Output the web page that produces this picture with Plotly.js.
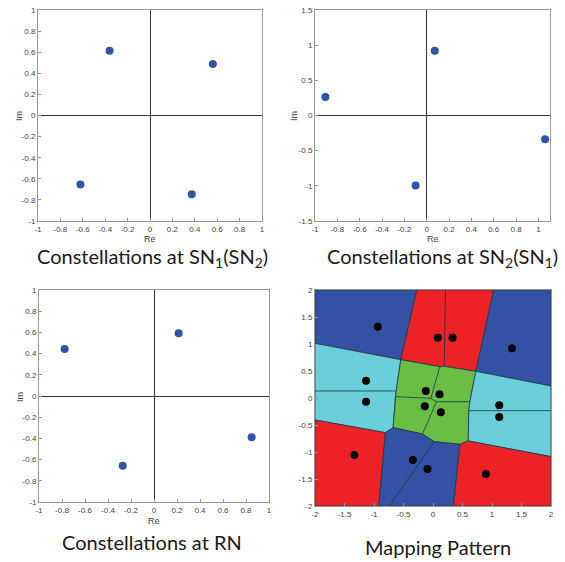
<!DOCTYPE html>
<html>
<head>
<meta charset="utf-8">
<script src="https://cdn.plot.ly/plotly-3.0.1.min.js"></script>
<style>html,body{margin:0;padding:0;background:#fff;}#chart{width:565px;height:562px;}</style>
</head>
<body>
<div id="chart"></div>
<script>
// ---------- Constellation data ----------
const sn1Re = [-0.361, 0.561, -0.621, 0.373];
const sn1Im = [0.614, 0.487, -0.655, -0.747];

const sn2Re = [-0.907, 0.072, -0.099, 1.060];
const sn2Im = [0.262, 0.919, -0.995, -0.338];

const rnRe = [-0.777, 0.214, -0.272, 0.849];
const rnIm = [0.444, 0.592, -0.658, -0.388];

// ---------- Mapping pattern: superimposed points ----------
const mapRe = [-0.936, 0.082, 0.331, 1.338, -1.134, -1.134, -0.122, 0.110, -0.139, 0.133, 1.123, 1.123, -1.333, -0.342, -0.093, 0.897];
const mapIm = [1.320, 1.117, 1.117, 0.920, 0.321, -0.068, 0.130, 0.068, -0.154, -0.265, -0.136, -0.352, -1.056, -1.148, -1.315, -1.407];

// ---------- Mapping pattern: region vertices (data units) ----------
const vertexNames = ['TL','TR','BL','BR','A','B','C','D','E','F','G','H','I','J1','J','K','L','M','N','O','P','Q','R','S','T','U','V','W','X','Y','Z1','Z2'];
const vertexX = [-2, 2, -2, 2, -0.274, -0.546, 0.212, 0.190, 0.116, 0.727, 1.027, -2, -2, -0.625, -0.637, -0.676, -0.806, -2, -0.919, -0.178, 0.020, -0.738, 0.455, 0.597, 0.348, 2, 2, 0.608, 2, 0.625, -0.037, 0.059];
const vertexY = [2, 2, -2, -2, 2, 0.710, 2, 0.586, 0.580, 0.494, 2, 1.012, 0.130, 0.130, 0.025, -0.549, -0.642, -0.407, -2, -0.667, -0.809, -2, -0.858, -0.796, -2, -1.086, 0.222, -0.235, -0.235, -0.068, -0.006, -0.068];

const regionColors = ['blue','red','blue','cyan','green','cyan','red','blue','red'];
const regionVertices = [
  ['TL','A','B','H'],
  ['A','G','F','D','E','B'],
  ['G','TR','V','F'],
  ['H','B','J1','J','K','L','M'],
  ['B','E','D','F','Y','W','S','R','P','O','K','J','J1'],
  ['F','V','X','U','S','W','Y'],
  ['M','L','N','BL'],
  ['L','K','O','P','R','T','N'],
  ['R','S','U','BR','T']
];
const innerEdges = [['C','D'],['I','J1'],['W','X'],['P','Q'],['E','Z1'],['J','Z1'],['Z1','Z2'],['Z2','Y'],['Z2','O']];

// tick labels
const tick02Vals = [-1,-0.8,-0.6,-0.4,-0.2,0,0.2,0.4,0.6,0.8,1];
const tick02Text = ['-1','-0.8','-0.6','-0.4','-0.2','0','0.2','0.4','0.6','0.8','1'];
const tick05Vals = [-1.5,-1,-0.5,0,0.5,1,1.5];
const tick05Text = ['-1.5','-1','-0.5','0','0.5','1','1.5'];
const tick2Vals = [-2,-1.5,-1,-0.5,0,0.5,1,1.5,2];
const tick2Text = ['-2','-1.5','-1','-0.5','0','0.5','1','1.5','2'];

const titles = ['Constellations at SN<sub>1</sub>(SN<sub>2</sub>)','Constellations at SN<sub>2</sub>(SN<sub>1</sub>)','Constellations at RN','Mapping Pattern'];

// ---------- styling ----------
const colorMap = {blue:'#3452a3', red:'#ec2227', cyan:'#6bcedb', green:'#6bbd45'};
const dotColor = '#2f54aa';
const W = 565, H = 562;
const px = x => x / W;
const py = y => 1 - y / H;

const idx = n => vertexNames.indexOf(n);
const traces = [];

function constTrace(x, y, xa, ya) {
  return {x: x, y: y, xaxis: xa, yaxis: ya, type: 'scatter', mode: 'markers',
    marker: {color: dotColor, size: 8}, hoverinfo: 'skip', showlegend: false};
}
traces.push(constTrace(sn1Re, sn1Im, 'x', 'y'));
traces.push(constTrace(sn2Re, sn2Im, 'x2', 'y2'));
traces.push(constTrace(rnRe, rnIm, 'x3', 'y3'));

regionVertices.forEach((poly, k) => {
  const xs = poly.map(n => vertexX[idx(n)]);
  const ys = poly.map(n => vertexY[idx(n)]);
  xs.push(xs[0]); ys.push(ys[0]);
  traces.push({x: xs, y: ys, xaxis: 'x4', yaxis: 'y4', type: 'scatter', mode: 'lines',
    fill: 'toself', fillcolor: colorMap[regionColors[k]],
    line: {color: '#173a45', width: 0.8}, hoverinfo: 'skip', showlegend: false});
});
const ex = [], ey = [];
innerEdges.forEach(e => {
  ex.push(vertexX[idx(e[0])], vertexX[idx(e[1])], null);
  ey.push(vertexY[idx(e[0])], vertexY[idx(e[1])], null);
});
traces.push({x: ex, y: ey, xaxis: 'x4', yaxis: 'y4', type: 'scatter', mode: 'lines',
  line: {color: '#173a45', width: 0.8}, hoverinfo: 'skip', showlegend: false});
traces.push({x: mapRe, y: mapIm, xaxis: 'x4', yaxis: 'y4', type: 'scatter', mode: 'markers',
  marker: {color: '#000', size: 8}, hoverinfo: 'skip', showlegend: false});

const tickFont = {family: 'Liberation Sans, Arial, sans-serif', size: 8, color: '#444'};
function ax(domain, range, vals, text, anchor, zero) {
  return {domain: domain, range: range, tickmode: 'array', tickvals: vals, ticktext: text,
    showgrid: false, zeroline: zero, zerolinecolor: '#333', zerolinewidth: 1,
    showline: true, mirror: true, linecolor: '#999', linewidth: 1,
    ticks: 'inside', ticklen: 3, tickcolor: '#999', tickfont: tickFont,
    anchor: anchor, fixedrange: true, automargin: false};
}

const layout = {
  width: W, height: H, margin: {l: 0, r: 0, t: 0, b: 0},
  paper_bgcolor: '#fff', plot_bgcolor: '#fff', showlegend: false,
  xaxis:  ax([px(38), px(262)], [-1, 1], tick02Vals, tick02Text, 'y', true),
  yaxis:  ax([py(221), py(10)], [-1, 1], tick02Vals, tick02Text, 'x', true),
  xaxis2: ax([px(315), px(550)], [-1, 1.104], tick02Vals, tick02Text, 'y2', true),
  yaxis2: ax([py(221), py(10)], [-1.5, 1.5], tick05Vals, tick05Text, 'x2', true),
  xaxis3: ax([px(39), px(269)], [-1, 1], tick02Vals, tick02Text, 'y3', true),
  yaxis3: ax([py(502), py(290)], [-1, 1], tick02Vals, tick02Text, 'x3', true),
  xaxis4: ax([px(315), px(551)], [-2, 2], tick2Vals, tick2Text, 'y4', false),
  yaxis4: ax([py(506), py(290)], [-2, 2], tick2Vals, tick2Text, 'x4', false),
  annotations: []
};

const axLabelFont = {family: 'Liberation Sans, Arial, sans-serif', size: 9, color: '#444'};
const axLabels = [
  {t: 'Re', x: 150, y: 239, a: 0}, {t: 'Im', x: 19, y: 116, a: -90},
  {t: 'Re', x: 433, y: 239, a: 0}, {t: 'Im', x: 294, y: 116, a: -90},
  {t: 'Re', x: 154, y: 521, a: 0}, {t: 'Im', x: 20, y: 397, a: -90}
];
axLabels.forEach(l => layout.annotations.push({text: l.t, xref: 'paper', yref: 'paper',
  x: px(l.x), y: py(l.y), xanchor: 'center', yanchor: 'middle', showarrow: false,
  textangle: l.a, font: axLabelFont}));

const titleFont = {family: 'Lato, "Open Sans", sans-serif', size: 20, color: '#1a1a1a'};
const titlePos = [[152, 257], [442, 257], [152, 542], [438, 547]];
titles.forEach((t, i) => layout.annotations.push({text: t, xref: 'paper', yref: 'paper',
  x: px(titlePos[i][0]), y: py(titlePos[i][1]), xanchor: 'center', yanchor: 'middle',
  showarrow: false, font: titleFont}));

Plotly.newPlot('chart', traces, layout, {staticPlot: true, displayModeBar: false});
</script>
</body>
</html>
